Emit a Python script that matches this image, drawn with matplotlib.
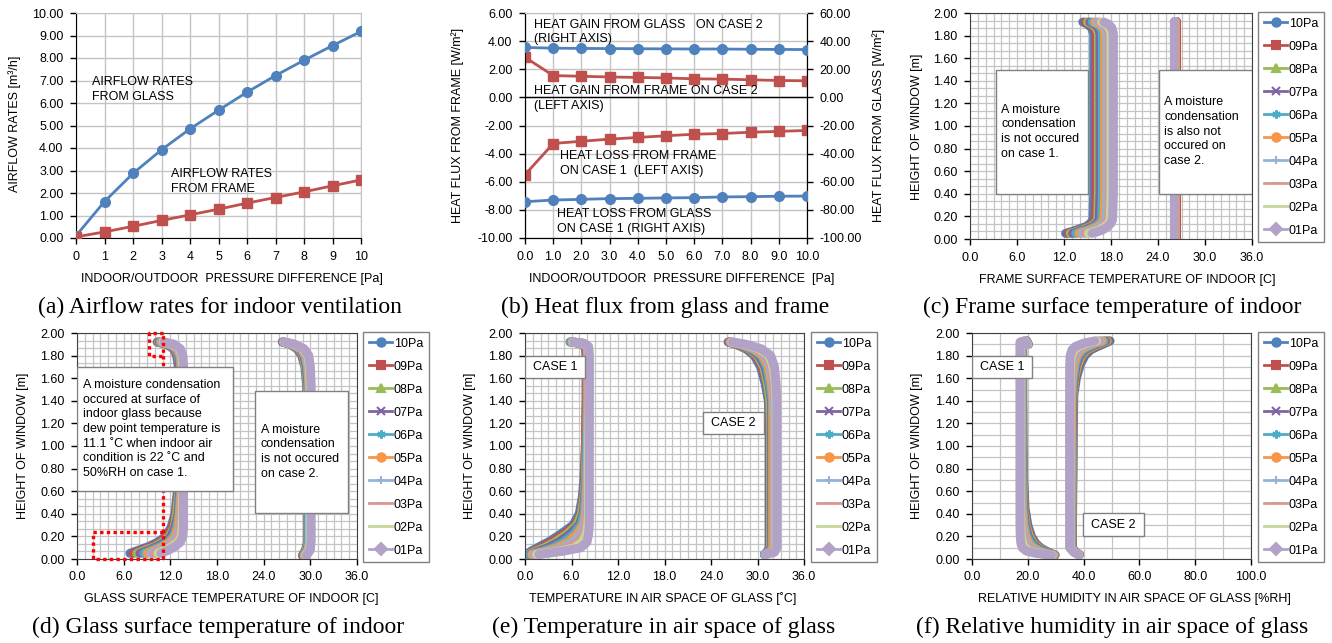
import matplotlib
matplotlib.use("Agg")
import matplotlib.pyplot as plt
from matplotlib.lines import Line2D
from matplotlib.patches import Rectangle
from matplotlib.ticker import MultipleLocator, FormatStrFormatter

plt.rcParams['font.family'] = ['Liberation Sans', 'DejaVu Sans']

W, H = 1332, 643

# ---------------- data ----------------
pressure = [0, 1, 2, 3, 4, 5, 6, 7, 8, 9, 10]

# (a) airflow rates [m3/h]
airflow_glass = [0.10, 1.62, 2.87, 3.92, 4.85, 5.68, 6.48, 7.22, 7.90, 8.55, 9.18]
airflow_frame = [0.05, 0.27, 0.52, 0.78, 1.03, 1.28, 1.55, 1.80, 2.05, 2.32, 2.58]

# (b) heat flux [W/m2]; glass on right axis, frame on left axis
glass_gain_case2 = [35.5, 35.0, 34.8, 34.7, 34.6, 34.5, 34.4, 34.4, 34.2, 34.1, 34.0]
frame_gain_case2 = [2.85, 1.55, 1.50, 1.45, 1.42, 1.38, 1.32, 1.30, 1.25, 1.20, 1.18]
frame_loss_case1 = [-5.50, -3.28, -3.12, -2.97, -2.85, -2.73, -2.62, -2.57, -2.48, -2.42, -2.35]
glass_loss_case1 = [-74.2, -73.0, -72.5, -72.0, -71.8, -71.5, -71.3, -70.8, -70.6, -70.3, -70.2]

series_labels = ['10Pa', '09Pa', '08Pa', '07Pa', '06Pa', '05Pa', '04Pa', '03Pa', '02Pa', '01Pa']
series_colors = ['#4F81BD', '#C0504D', '#9BBB59', '#8064A2', '#4BACC6',
                 '#F79646', '#95B3D7', '#D99694', '#C3D69B', '#B3A2C7']
series_markers = ['o', 's', '^', 'x', (6, 2, 0), 'o', '+', '_', '', 'D']

# (c) frame surface temperature of indoor, rows = 10Pa ... 01Pa
frame_h_case1 = [1.92, 1.90, 1.87, 1.82, 1.60, 1.00, 0.40, 0.17, 0.14, 0.11, 0.08, 0.06, 0.05]
frame_t_case1 = [
    [14.4, 15.0, 15.5, 15.8, 15.8, 15.8, 15.8, 15.7, 15.4, 14.8, 13.6, 12.7, 12.2],
    [14.7, 15.3, 15.8, 16.1, 16.1, 16.1, 16.1, 16.0, 15.7, 15.1, 14.0, 13.0, 12.5],
    [15.0, 15.6, 16.1, 16.4, 16.4, 16.4, 16.4, 16.3, 16.0, 15.4, 14.3, 13.3, 12.8],
    [15.3, 15.9, 16.4, 16.6, 16.6, 16.6, 16.6, 16.5, 16.2, 15.7, 14.6, 13.6, 13.1],
    [15.6, 16.2, 16.7, 16.9, 16.9, 16.9, 16.9, 16.8, 16.5, 16.0, 15.0, 14.0, 13.5],
    [15.9, 16.5, 17.0, 17.2, 17.2, 17.2, 17.2, 17.1, 16.8, 16.3, 15.3, 14.4, 13.9],
    [16.2, 16.8, 17.3, 17.5, 17.5, 17.5, 17.5, 17.4, 17.1, 16.6, 15.7, 14.8, 14.3],
    [16.5, 17.1, 17.6, 17.8, 17.8, 17.8, 17.8, 17.7, 17.4, 16.9, 16.1, 15.2, 14.7],
    [16.8, 17.4, 17.8, 18.0, 18.0, 18.0, 18.0, 17.9, 17.7, 17.2, 16.5, 15.6, 15.1],
    [17.1, 17.7, 18.1, 18.3, 18.3, 18.3, 18.3, 18.2, 18.0, 17.6, 16.9, 16.1, 15.6],
]
frame_h_case2 = [1.93, 1.60, 1.20, 0.80, 0.40, 0.01]
frame_t_case2 = [
    [26.3, 26.3, 26.3, 26.3, 26.3, 26.3],
    [26.3, 26.3, 26.3, 26.3, 26.3, 26.3],
    [26.2, 26.2, 26.2, 26.2, 26.2, 26.2],
    [26.2, 26.2, 26.2, 26.2, 26.2, 26.2],
    [26.2, 26.2, 26.2, 26.2, 26.2, 26.2],
    [26.2, 26.2, 26.2, 26.2, 26.2, 26.2],
    [26.1, 26.1, 26.1, 26.1, 26.1, 26.1],
    [26.1, 26.1, 26.1, 26.1, 26.1, 26.1],
    [26.1, 26.1, 26.1, 26.1, 26.1, 26.1],
    [26.1, 26.1, 26.1, 26.1, 26.1, 26.1],
]

# (d) glass surface temperature of indoor
glass_h_case1 = [1.92, 1.90, 1.86, 1.80, 1.72, 1.50, 1.00, 0.60, 0.40, 0.28, 0.20, 0.15, 0.11, 0.08, 0.05]
glass_t_case1 = [
    [10.3, 11.5, 12.4, 12.8, 13.0, 13.0, 13.0, 12.9, 12.6, 12.1, 11.4, 10.4, 9.2, 8.0, 6.8],
    [10.4, 11.6, 12.5, 12.9, 13.1, 13.1, 13.1, 13.0, 12.7, 12.3, 11.6, 10.7, 9.6, 8.4, 7.2],
    [10.5, 11.7, 12.6, 13.0, 13.2, 13.2, 13.2, 13.1, 12.8, 12.5, 11.9, 11.0, 10.0, 8.8, 7.7],
    [10.6, 11.8, 12.7, 13.1, 13.2, 13.2, 13.2, 13.2, 13.0, 12.6, 12.1, 11.4, 10.3, 9.3, 8.1],
    [10.7, 11.9, 12.8, 13.2, 13.3, 13.3, 13.3, 13.3, 13.1, 12.8, 12.4, 11.7, 10.7, 9.7, 8.6],
    [10.8, 12.0, 12.9, 13.3, 13.4, 13.4, 13.4, 13.4, 13.2, 13.0, 12.6, 12.0, 11.1, 10.1, 9.0],
    [10.9, 12.1, 13.0, 13.4, 13.5, 13.5, 13.5, 13.5, 13.4, 13.2, 12.9, 12.3, 11.5, 10.5, 9.5],
    [11.0, 12.3, 13.1, 13.5, 13.5, 13.5, 13.5, 13.5, 13.5, 13.3, 13.1, 12.7, 11.8, 10.9, 9.9],
    [11.1, 12.4, 13.2, 13.5, 13.6, 13.6, 13.6, 13.6, 13.6, 13.5, 13.4, 13.0, 12.2, 11.4, 10.4],
    [11.2, 12.5, 13.3, 13.6, 13.7, 13.7, 13.7, 13.7, 13.7, 13.7, 13.6, 13.3, 12.6, 11.8, 10.8],
]
glass_h_case2 = [1.92, 1.90, 1.86, 1.80, 1.70, 1.55, 1.40, 1.00, 0.50, 0.15, 0.08, 0.05, 0.03]
glass_t_case2 = [
    [26.4, 27.4, 28.3, 28.9, 29.3, 29.5, 29.6, 29.6, 29.6, 29.6, 29.4, 29.1, 29.0],
    [26.4, 27.5, 28.4, 29.0, 29.4, 29.6, 29.7, 29.7, 29.7, 29.7, 29.5, 29.2, 29.0],
    [26.5, 27.5, 28.5, 29.1, 29.4, 29.6, 29.7, 29.7, 29.7, 29.7, 29.5, 29.2, 29.1],
    [26.5, 27.6, 28.6, 29.2, 29.5, 29.7, 29.8, 29.8, 29.8, 29.8, 29.6, 29.3, 29.1],
    [26.5, 27.7, 28.7, 29.3, 29.6, 29.8, 29.8, 29.8, 29.8, 29.8, 29.7, 29.4, 29.2],
    [26.6, 27.7, 28.8, 29.4, 29.7, 29.8, 29.9, 29.9, 29.9, 29.9, 29.7, 29.4, 29.2],
    [26.6, 27.8, 28.9, 29.5, 29.8, 29.9, 29.9, 29.9, 29.9, 29.9, 29.8, 29.5, 29.3],
    [26.6, 27.9, 29.0, 29.6, 29.9, 30.0, 30.0, 30.0, 30.0, 30.0, 29.9, 29.6, 29.4],
    [26.7, 27.9, 29.1, 29.7, 29.9, 30.0, 30.0, 30.0, 30.0, 30.0, 29.9, 29.6, 29.4],
    [26.7, 28.0, 29.2, 29.8, 30.0, 30.1, 30.1, 30.1, 30.1, 30.1, 30.0, 29.7, 29.5],
]

# (e) temperature in air space of glass
air_h_case1 = [1.92, 1.91, 1.88, 1.80, 1.40, 1.00, 0.70, 0.55, 0.40, 0.30, 0.22, 0.15, 0.10, 0.07, 0.04]
air_t_case1 = [
    [5.8, 7.0, 7.8, 7.9, 7.9, 7.8, 7.6, 7.4, 7.0, 6.2, 4.6, 3.0, 1.6, 0.8, 0.1],
    [5.9, 7.1, 7.8, 7.9, 7.9, 7.8, 7.7, 7.5, 7.2, 6.5, 5.0, 3.4, 2.0, 1.1, 0.3],
    [5.9, 7.1, 7.9, 8.0, 8.0, 7.9, 7.8, 7.6, 7.3, 6.7, 5.4, 3.9, 2.5, 1.4, 0.4],
    [6.0, 7.2, 7.9, 8.0, 8.0, 8.0, 7.9, 7.7, 7.5, 7.0, 5.8, 4.4, 3.0, 1.8, 0.6],
    [6.0, 7.3, 8.0, 8.1, 8.1, 8.0, 7.9, 7.8, 7.6, 7.2, 6.3, 5.0, 3.6, 2.3, 0.7],
    [6.1, 7.3, 8.0, 8.1, 8.1, 8.1, 8.0, 7.9, 7.8, 7.5, 6.7, 5.6, 4.2, 2.8, 0.9],
    [6.1, 7.4, 8.1, 8.2, 8.2, 8.1, 8.1, 8.0, 7.9, 7.7, 7.2, 6.2, 4.9, 3.4, 1.1],
    [6.2, 7.4, 8.1, 8.2, 8.2, 8.2, 8.2, 8.1, 8.0, 7.9, 7.6, 6.8, 5.6, 4.0, 1.3],
    [6.2, 7.5, 8.2, 8.3, 8.3, 8.2, 8.2, 8.2, 8.2, 8.1, 7.9, 7.4, 6.4, 4.5, 1.5],
    [6.3, 7.6, 8.2, 8.3, 8.3, 8.3, 8.3, 8.3, 8.3, 8.3, 8.2, 8.0, 7.2, 5.0, 1.8],
]
air_h_case2 = [1.92, 1.90, 1.86, 1.80, 1.70, 1.55, 1.40, 1.20, 0.80, 0.30, 0.10, 0.06, 0.04]
air_t_case2 = [
    [26.2, 27.2, 28.5, 29.6, 30.4, 31.0, 31.4, 31.5, 31.5, 31.5, 31.5, 31.2, 30.9],
    [26.3, 27.3, 28.7, 29.8, 30.6, 31.2, 31.5, 31.6, 31.6, 31.6, 31.6, 31.3, 30.9],
    [26.4, 27.5, 28.9, 30.0, 30.8, 31.3, 31.6, 31.7, 31.7, 31.7, 31.7, 31.4, 30.9],
    [26.4, 27.6, 29.1, 30.2, 31.0, 31.5, 31.8, 31.8, 31.8, 31.8, 31.8, 31.5, 30.9],
    [26.5, 27.8, 29.3, 30.5, 31.2, 31.6, 31.9, 31.9, 31.9, 31.9, 31.9, 31.6, 30.9],
    [26.5, 27.9, 29.5, 30.7, 31.4, 31.8, 32.0, 32.0, 32.0, 32.0, 32.0, 31.7, 31.0],
    [26.6, 28.0, 29.8, 31.0, 31.6, 32.0, 32.1, 32.2, 32.2, 32.2, 32.2, 31.9, 31.0],
    [26.6, 28.2, 30.0, 31.2, 31.8, 32.1, 32.3, 32.3, 32.3, 32.3, 32.3, 32.0, 31.0],
    [26.7, 28.3, 30.2, 31.5, 32.0, 32.3, 32.4, 32.4, 32.4, 32.4, 32.4, 32.1, 31.0],
    [26.8, 28.5, 30.5, 31.7, 32.2, 32.4, 32.5, 32.5, 32.5, 32.5, 32.5, 32.2, 31.0],
]

# (f) relative humidity in air space of glass
rh_h_case1 = [1.90, 1.93, 1.92, 1.88, 1.50, 1.00, 0.70, 0.45, 0.30, 0.20, 0.14, 0.10, 0.07, 0.05, 0.035]
rh_v_case1 = [
    [20.2, 19.6, 18.6, 18.2, 18.2, 18.3, 18.5, 19.0, 20.0, 21.3, 22.8, 24.5, 26.6, 28.3, 29.8],
    [20.2, 19.5, 18.5, 18.1, 18.1, 18.2, 18.4, 18.8, 19.7, 21.0, 22.5, 24.2, 26.3, 28.1, 29.7],
    [20.1, 19.4, 18.4, 18.0, 18.0, 18.1, 18.3, 18.6, 19.4, 20.6, 22.0, 23.8, 25.9, 27.8, 29.6],
    [20.1, 19.4, 18.2, 17.9, 17.9, 17.9, 18.1, 18.4, 19.1, 20.1, 21.5, 23.2, 25.4, 27.4, 29.5],
    [20.0, 19.3, 18.1, 17.8, 17.8, 17.8, 18.0, 18.2, 18.8, 19.7, 21.0, 22.6, 24.8, 26.9, 29.4],
    [20.0, 19.2, 17.9, 17.7, 17.7, 17.7, 17.8, 18.0, 18.5, 19.2, 20.3, 21.8, 24.0, 26.2, 29.3],
    [20.0, 19.1, 17.8, 17.6, 17.6, 17.6, 17.7, 17.8, 18.1, 18.7, 19.6, 21.0, 23.0, 25.4, 29.1],
    [19.9, 19.0, 17.6, 17.4, 17.4, 17.4, 17.5, 17.6, 17.8, 18.2, 18.9, 20.0, 21.8, 24.6, 28.9],
    [19.9, 18.9, 17.4, 17.3, 17.3, 17.3, 17.3, 17.4, 17.5, 17.7, 18.2, 19.0, 20.6, 23.8, 28.7],
    [19.8, 18.8, 17.2, 17.2, 17.2, 17.2, 17.2, 17.2, 17.2, 17.3, 17.5, 18.0, 19.5, 23.0, 28.5],
]
rh_h_case2 = [1.93, 1.91, 1.88, 1.85, 1.80, 1.72, 1.60, 1.45, 1.20, 0.80, 0.30, 0.10, 0.06, 0.04]
rh_v_case2 = [
    [49.5, 47.8, 45.0, 42.5, 40.5, 38.8, 37.4, 36.5, 36.3, 36.2, 36.0, 36.0, 37.0, 38.5],
    [49.0, 47.0, 44.2, 41.8, 39.9, 38.3, 37.1, 36.3, 36.2, 36.1, 35.9, 35.9, 37.0, 38.5],
    [48.5, 46.2, 43.4, 41.1, 39.3, 37.9, 36.8, 36.2, 36.0, 36.0, 35.8, 35.8, 36.9, 38.4],
    [47.9, 45.4, 42.6, 40.4, 38.7, 37.4, 36.6, 36.0, 35.9, 35.8, 35.7, 35.7, 36.9, 38.4],
    [47.3, 44.6, 41.8, 39.7, 38.1, 37.0, 36.3, 35.8, 35.7, 35.7, 35.6, 35.6, 36.8, 38.3],
    [46.7, 43.8, 41.0, 39.0, 37.5, 36.6, 36.0, 35.7, 35.6, 35.5, 35.4, 35.4, 36.8, 38.3],
    [46.0, 43.0, 40.2, 38.2, 36.9, 36.1, 35.7, 35.5, 35.4, 35.4, 35.3, 35.3, 36.7, 38.2],
    [45.4, 42.0, 39.2, 37.4, 36.3, 35.7, 35.4, 35.3, 35.3, 35.2, 35.2, 35.2, 36.6, 38.2],
    [44.7, 41.0, 38.1, 36.6, 35.7, 35.3, 35.2, 35.1, 35.1, 35.1, 35.1, 35.1, 36.6, 38.1],
    [44.0, 40.0, 37.0, 35.8, 35.2, 35.0, 35.0, 35.0, 35.0, 35.0, 35.0, 35.0, 36.5, 38.0],
]

# dew point marking in (d)
dew_point = 11.1
cond_box_top = (9.3, 1.80, 2.00)     # x start, y bottom, y top (right edge at dew point)
cond_box_bottom = (2.1, 0.00, 0.24)

GRID = '#C4C4C4'
BLUE, RED = '#4F81BD', '#C0504D'

fig = plt.figure(figsize=(W / 100, H / 100), dpi=100)


def axes_px(left, top, right, bottom):
    return fig.add_axes([left / W, 1 - bottom / H, (right - left) / W, (bottom - top) / H])


def ftext(x, y, s, **kw):
    fig.text(x / W, 1 - y / H, s, ha='center', va='center', **kw)


def caption(x, y, s):
    ftext(x, y, s, fontsize=17, family=['Liberation Serif', 'DejaVu Serif'])


def ticks(ax):
    ax.tick_params(which='major', direction='out', length=4, width=1, labelsize=9, pad=5)
    ax.tick_params(which='minor', length=0)


# ---------------- (a) ----------------
ax = axes_px(76, 13, 361, 238)
ax.plot(pressure, airflow_glass, color=BLUE, lw=2, marker='o', ms=7, zorder=3)
ax.plot(pressure, airflow_frame, color=RED, lw=2, marker='s', ms=7, zorder=3)
ax.set_xlim(0, 10)
ax.set_ylim(0, 10)
ax.xaxis.set_major_locator(MultipleLocator(1))
ax.yaxis.set_major_locator(MultipleLocator(1))
ax.yaxis.set_major_formatter(FormatStrFormatter('%.2f'))
ax.grid(color=GRID, lw=1)
ax.set_axisbelow(True)
ticks(ax)
ax.spines['top'].set_color(GRID)
ax.spines['right'].set_color(GRID)
ax.text(0.56, 6.6, 'AIRFLOW RATES\nFROM GLASS', fontsize=9, va='center', linespacing=1.3)
ax.text(3.33, 2.5, 'AIRFLOW RATES\nFROM FRAME', fontsize=9, va='center', linespacing=1.3)
ftext(232, 279, 'INDOOR/OUTDOOR  PRESSURE DIFFERENCE [Pa]', fontsize=9)
ftext(15, 124, 'AIRFLOW RATES [m³/h]', fontsize=9, rotation=90)
caption(220, 307, '(a) Airflow rates for indoor ventilation')

# ---------------- (b) ----------------
ax = axes_px(525, 13, 807, 238)
ax2 = ax.twinx()
ax.plot(pressure, frame_gain_case2, color=RED, lw=2, marker='s', ms=7, zorder=3)
ax.plot(pressure, frame_loss_case1, color=RED, lw=2, marker='s', ms=7, zorder=3)
ax2.plot(pressure, glass_gain_case2, color=BLUE, lw=2, marker='o', ms=7, zorder=3)
ax2.plot(pressure, glass_loss_case1, color=BLUE, lw=2, marker='o', ms=7, zorder=3)
ax.set_xlim(0, 10)
ax.set_ylim(-10, 6)
ax2.set_ylim(-100, 60)
ax.xaxis.set_major_locator(MultipleLocator(1))
ax.xaxis.set_major_formatter(FormatStrFormatter('%.1f'))
ax.yaxis.set_major_locator(MultipleLocator(2))
ax.yaxis.set_major_formatter(FormatStrFormatter('%.2f'))
ax2.yaxis.set_major_locator(MultipleLocator(20))
ax2.yaxis.set_major_formatter(FormatStrFormatter('%.2f'))
ax.grid(color=GRID, lw=1)
ax.set_axisbelow(True)
ax.axhline(0, color='black', lw=1, zorder=2)
ticks(ax)
ticks(ax2)
for a in (ax, ax2):
    a.spines['top'].set_color(GRID)
ax.text(0.33, 4.65, 'HEAT GAIN FROM GLASS   ON CASE 2\n(RIGHT AXIS)', fontsize=9, va='center', linespacing=1.3)
ax.text(0.33, -0.08, 'HEAT GAIN FROM FRAME ON CASE 2\n(LEFT AXIS)', fontsize=9, va='center', linespacing=1.3)
ax.text(1.24, -4.70, 'HEAT LOSS FROM FRAME\nON CASE 1  (LEFT AXIS)', fontsize=9, va='center', linespacing=1.3)
ax.text(1.13, -8.82, 'HEAT LOSS FROM GLASS\nON CASE 1 (RIGHT AXIS)', fontsize=9, va='center', linespacing=1.3)
ftext(682, 279, 'INDOOR/OUTDOOR  PRESSURE DIFFERENCE  [Pa]', fontsize=9)
ftext(458, 125, 'HEAT FLUX FROM FRAME [W/m²]', fontsize=9, rotation=90)
ftext(879, 125, 'HEAT FLUX FROM GLASS [W/m²]', fontsize=9, rotation=90)
caption(665, 307, '(b) Heat flux from glass and frame')


# ---------------- profile panels ----------------
def profile_axes(box, xmax, xmajor, xminor, yminor):
    ax = axes_px(*box)
    ax.set_xlim(0, xmax)
    ax.set_ylim(0, 2)
    ax.xaxis.set_major_locator(MultipleLocator(xmajor))
    ax.xaxis.set_minor_locator(MultipleLocator(xminor))
    ax.yaxis.set_major_locator(MultipleLocator(0.2))
    ax.yaxis.set_minor_locator(MultipleLocator(yminor))
    ax.xaxis.set_major_formatter(FormatStrFormatter('%.1f'))
    ax.yaxis.set_major_formatter(FormatStrFormatter('%.2f'))
    ax.grid(which='both', color=GRID, lw=0.9)
    ax.set_axisbelow(True)
    ticks(ax)
    for sp in ax.spines.values():
        sp.set_color('#404040')
    return ax


def draw_profiles(ax, heights, values):
    for col, xs in zip(series_colors, values):
        ax.plot(xs, heights, color=col, lw=6.5, solid_capstyle='round',
                solid_joinstyle='round', zorder=2)


def note_box(ax, x0, x1, y0, y1, s, centered=False):
    ax.add_patch(Rectangle((x0, y0), x1 - x0, y1 - y0, facecolor='white',
                           edgecolor='#808080', lw=1, zorder=5))
    if centered:
        ax.text((x0 + x1) / 2, (y0 + y1) / 2, s, fontsize=9, ha='center', va='center', zorder=6)
    else:
        pad = (ax.get_xlim()[1]) * 0.02
        ax.text(x0 + pad, (y0 + y1) / 2, s, fontsize=9, ha='left', va='center',
                linespacing=1.3, zorder=6)


def legend(ax, x0, y0):
    handles = [Line2D([], [], color=c, marker=m, lw=2, ms=6, mew=1.5, label=l)
               for l, c, m in zip(series_labels, series_colors, series_markers)]
    leg = ax.legend(handles=handles, loc='upper left', bbox_to_anchor=(x0 / W, 1 - y0 / H),
                    bbox_transform=fig.transFigure, fontsize=9, frameon=True, fancybox=False,
                    edgecolor='#808080', framealpha=1, borderpad=0.45, labelspacing=0.88,
                    handlelength=1.9, handletextpad=0.1, borderaxespad=0)
    leg.get_frame().set_linewidth(1)


# (c)
ax = profile_axes((970, 13, 1252, 239), 36, 6, 1, 0.2 / 3)
draw_profiles(ax, frame_h_case1, frame_t_case1)
draw_profiles(ax, frame_h_case2, frame_t_case2)
note_box(ax, 3.3, 15.1, 0.40, 1.50, 'A moisture\ncondensation\nis not occured\non case 1.')
note_box(ax, 24.1, 36.0, 0.40, 1.50, 'A moisture\ncondensation\nis also not\noccured on\ncase 2.')
legend(ax, 1258, 12)
ftext(1127, 280, 'FRAME SURFACE TEMPERATURE OF INDOOR [C]', fontsize=9)
ftext(917, 127, 'HEIGHT OF WINDOW [m]', fontsize=9, rotation=90)
caption(1112, 307, '(c) Frame surface temperature of indoor')

# (d)
ax = profile_axes((77, 333, 357, 559), 36, 6, 1, 0.2 / 3)
draw_profiles(ax, glass_h_case1, glass_t_case1)
draw_profiles(ax, glass_h_case2, glass_t_case2)
dot = dict(color='red', lw=2.4, linestyle=(0, (1, 1)), dash_capstyle='butt', zorder=4, clip_on=False)
ax.plot([dew_point, dew_point], [0, 2], **dot)
for xs, yb, yt in (cond_box_top, cond_box_bottom):
    ax.plot([dew_point, xs, xs, dew_point], [yt, yt, yb, yb], **dot)
note_box(ax, 0.0, 20.0, 0.60, 1.70,
         'A moisture condensation\noccured at surface of\nindoor glass because\n'
         'dew point temperature is\n11.1 ˚C when indoor air\ncondition is 22 ˚C and\n50%RH on case 1.')
note_box(ax, 22.9, 34.8, 0.41, 1.49, 'A moisture\ncondensation\nis not occured\non case 2.')
legend(ax, 363, 332)
ftext(231, 599, 'GLASS SURFACE TEMPERATURE OF INDOOR [C]', fontsize=9)
ftext(23, 446, 'HEIGHT OF WINDOW [m]', fontsize=9, rotation=90)
caption(218, 627, '(d) Glass surface temperature of indoor')

# (e)
ax = profile_axes((525, 333, 804, 559), 36, 6, 1, 0.2 / 3)
draw_profiles(ax, air_h_case1, air_t_case1)
draw_profiles(ax, air_h_case2, air_t_case2)
note_box(ax, 0.0, 7.7, 1.60, 1.80, 'CASE 1', centered=True)
note_box(ax, 23.0, 30.8, 1.11, 1.30, 'CASE 2', centered=True)
legend(ax, 811, 332)
ftext(663, 599, 'TEMPERATURE IN AIR SPACE OF GLASS [˚C]', fontsize=9)
ftext(470, 446, 'HEIGHT OF WINDOW [m]', fontsize=9, rotation=90)
caption(664, 627, '(e) Temperature in air space of glass')

# (f)
ax = profile_axes((972, 333, 1251, 559), 100, 20, 10, 0.1)
draw_profiles(ax, rh_h_case1, rh_v_case1)
draw_profiles(ax, rh_h_case2, rh_v_case2)
note_box(ax, 0.0, 21.5, 1.60, 1.80, 'CASE 1', centered=True)
note_box(ax, 39.8, 61.6, 0.20, 0.41, 'CASE 2', centered=True)
legend(ax, 1258, 332)
ftext(1134, 599, 'RELATIVE HUMIDITY IN AIR SPACE OF GLASS [%RH]', fontsize=9)
ftext(917, 446, 'HEIGHT OF WINDOW [m]', fontsize=9, rotation=90)
caption(1112, 627, '(f) Relative humidity in air space of glass')

fig.savefig('out.png', dpi=100)
